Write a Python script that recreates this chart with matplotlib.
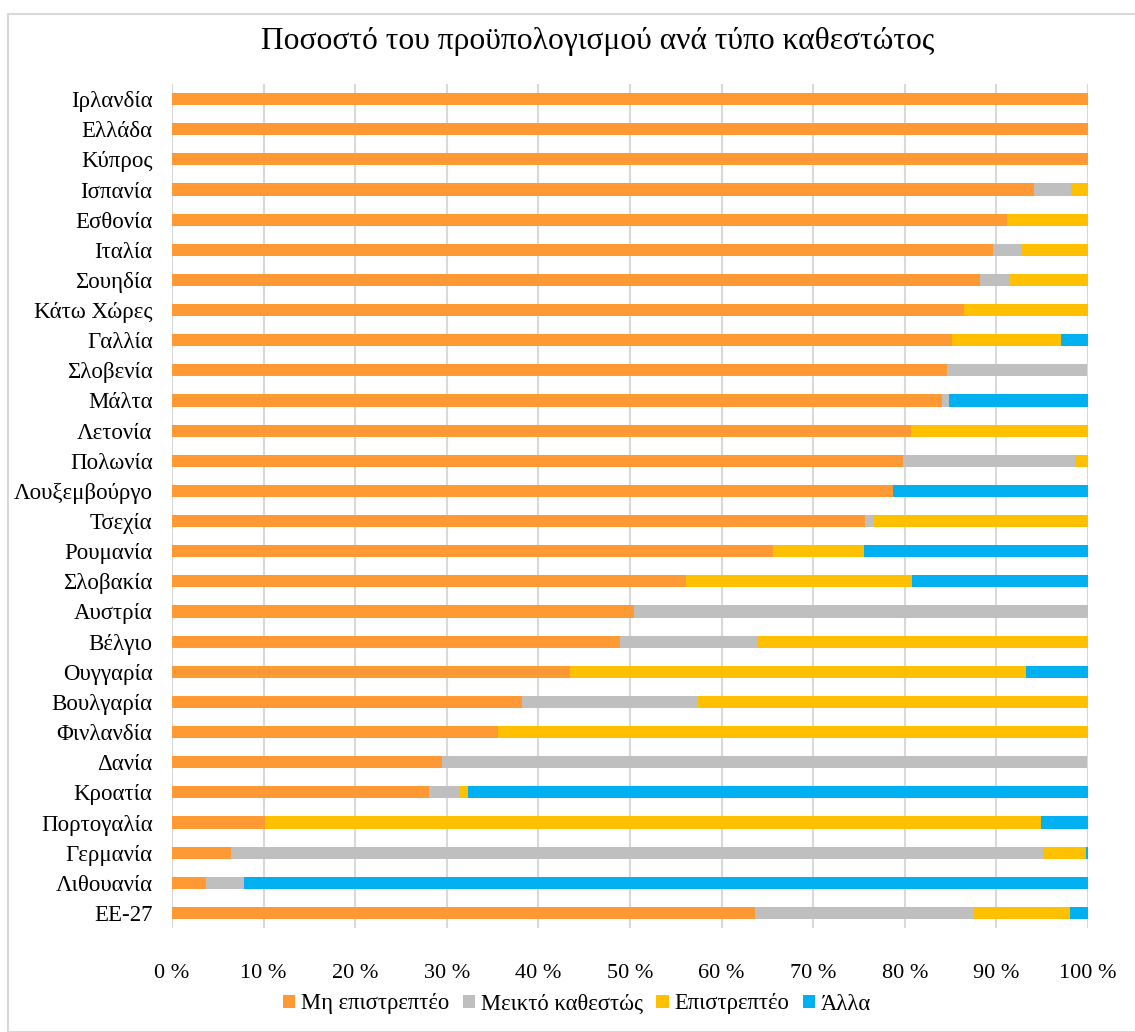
import matplotlib
matplotlib.use("Agg")
from matplotlib import pyplot as plt
from matplotlib.patches import Rectangle
import numpy as np

plt.rcParams['font.family'] = ['Liberation Serif', 'DejaVu Serif']

countries = ['Ιρλανδία', 'Ελλάδα', 'Κύπρος', 'Ισπανία', 'Εσθονία', 'Ιταλία',
             'Σουηδία', 'Κάτω Χώρες', 'Γαλλία', 'Σλοβενία', 'Μάλτα', 'Λετονία',
             'Πολωνία', 'Λουξεμβούργο', 'Τσεχία', 'Ρουμανία', 'Σλοβακία',
             'Αυστρία', 'Βέλγιο', 'Ουγγαρία', 'Βουλγαρία', 'Φινλανδία', 'Δανία',
             'Κροατία', 'Πορτογαλία', 'Γερμανία', 'Λιθουανία', 'ΕΕ-27']

non_repayable = [100, 100, 100, 94.1, 91.2, 89.6, 88.2, 86.5, 85.2, 84.6, 84.1, 80.7,
                 79.8, 78.7, 75.7, 65.6, 56.1, 50.4, 48.9, 43.5, 38.2, 35.6, 29.5,
                 28.1, 10.2, 6.4, 3.7, 63.7]
mixed = [0, 0, 0, 4.0, 0, 3.2, 3.2, 0, 0, 15.3, 0.7, 0,
         18.8, 0, 0.9, 0, 0, 49.6, 15.1, 0, 19.2, 0, 70.4,
         3.2, 0, 88.7, 4.2, 23.8]
repayable = [0, 0, 0, 1.9, 8.8, 7.2, 8.6, 13.5, 11.9, 0, 0, 19.3,
             1.4, 0, 23.4, 10.0, 24.7, 0, 36.0, 49.7, 42.6, 64.4, 0,
             1.0, 84.7, 4.65, 0, 10.5]
other = [0, 0, 0, 0, 0, 0, 0, 0, 2.9, 0, 15.2, 0,
         0, 21.3, 0, 24.4, 19.2, 0, 0, 6.8, 0, 0, 0,
         67.7, 5.1, 0.25, 92.1, 2.0]

series = [('Μη επιστρεπτέο', non_repayable, '#FF9933'),
          ('Μεικτό καθεστώς', mixed, '#BFBFBF'),
          ('Επιστρεπτέο', repayable, '#FFC000'),
          ('Άλλα', other, '#00B0F0')]

fig = plt.figure(figsize=(11.35, 10.32), dpi=100)
ax = fig.add_axes([172/1135, 1 - 928/1032, (1088-172)/1135, (928-84)/1032])

y = np.arange(len(countries))
left = np.zeros(len(countries))
for name, vals, col in series:
    vals = np.array(vals)
    ax.barh(y, vals, 0.4, left=left, color=col, label=name, zorder=3)
    left += vals

ax.set_xlim(0, 100)
ax.set_ylim(len(countries) - 0.5, -0.5)
ax.set_xticks(np.arange(0, 101, 10))
ax.set_xticklabels(['{} %'.format(v) for v in range(0, 101, 10)], fontsize=16)
ax.set_yticks(y)
ax.set_yticklabels(countries, fontsize=16.5)
ax.tick_params(axis='x', length=0, pad=26)
ax.tick_params(axis='y', length=0, pad=14)
ax.grid(axis='x', color='#D9D9D9', linewidth=1.5, zorder=0)
for s in ax.spines.values():
    s.set_visible(False)

fig.text(598/1135, 1 - 42/1032, 'Ποσοστό του προϋπολογισμού ανά τύπο καθεστώτος',
         ha='center', va='center', fontsize=22.7)

fig.legend(loc='center', bbox_to_anchor=(577/1135, 1 - 1004/1032), ncol=4,
           frameon=False, fontsize=16.3, handlelength=0.55, handleheight=0.55,
           handletextpad=0.25, columnspacing=0.6)

fig.patches.append(Rectangle((8/1135, 0), 1.1, 1 - 14/1032, transform=fig.transFigure,
                             fill=False, edgecolor='#D9D9D9', linewidth=1.5))

fig.savefig('out.png', dpi=100)
